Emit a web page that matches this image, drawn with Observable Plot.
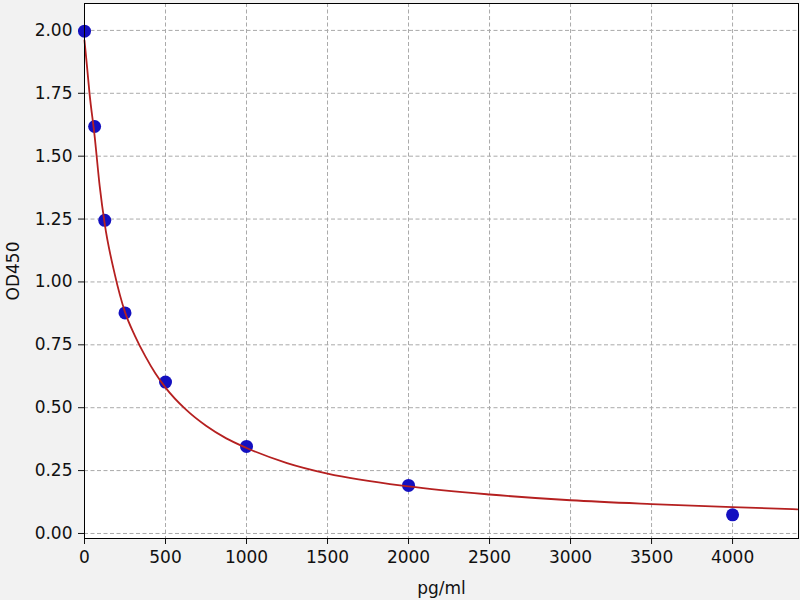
<!DOCTYPE html>
<html>
<head>
<meta charset="utf-8">
<script src="https://cdn.jsdelivr.net/npm/d3@7"></script>
<script src="https://cdn.jsdelivr.net/npm/@observablehq/plot@0.6"></script>
<style>
  body { margin: 0; background: #f2f2f2; }
  #chart { width: 800px; height: 600px; }
</style>
</head>
<body>
<div id="chart"></div>
<script>
// standard points (concentration, optical density)
const conc = [0, 62.5, 125, 250, 500, 1000, 2000, 4000];
const od = [1.997, 1.618, 1.245, 0.877, 0.602, 0.346, 0.191, 0.074];

// fitted curve
const fitX = [0, 15, 31, 62.5, 94, 125, 187, 250, 312, 375, 437, 500, 625, 750, 875, 1000, 1250, 1500, 2000, 2500, 3000, 3500, 4000, 4400];
const fitY = [1.96, 1.86, 1.75, 1.58, 1.38, 1.23, 1.03, 0.88, 0.785, 0.705, 0.637, 0.58, 0.493, 0.428, 0.378, 0.34, 0.28, 0.238, 0.187, 0.155, 0.132, 0.117, 0.105, 0.096];

const xTicks = [0, 500, 1000, 1500, 2000, 2500, 3000, 3500, 4000];
const yTicks = [0, 0.25, 0.5, 0.75, 1, 1.25, 1.5, 1.75, 2];

const points = conc.map((c, i) => ({ x: c, y: od[i] }));
const fit = fitX.map((c, i) => ({ x: c, y: fitY[i] }));

const chart = Plot.plot({
  width: 800,
  height: 600,
  marginLeft: 84,
  marginRight: 2,
  marginTop: 3,
  marginBottom: 62,
  style: { background: "#f2f2f2", fontFamily: "DejaVu Sans", fontSize: "17px", color: "#111" },
  x: { domain: [0, 4407] },
  y: { domain: [-0.02, 2.107] },
  marks: [
    Plot.frame({ fill: "white", stroke: null }),
    Plot.gridX(xTicks, { stroke: "#aaa", strokeOpacity: 1, strokeDasharray: "4,2.5" }),
    Plot.gridY(yTicks, { stroke: "#aaa", strokeOpacity: 1, strokeDasharray: "4,2.5" }),
    Plot.axisX(xTicks, { tickSize: 6, tickPadding: 6, tickFormat: "d", label: "pg/ml", labelArrow: "none", labelAnchor: "center", labelOffset: 55, fontSize: 17 }),
    Plot.axisY(yTicks, { tickSize: 6, tickPadding: 6, tickFormat: ".2f", label: "OD450", labelArrow: "none", labelAnchor: "center", labelOffset: 78, fontSize: 17 }),
    Plot.dot(points, { x: "x", y: "y", r: 6.5, fill: "#1410c0", stroke: "none" }),
    Plot.line(fit, { x: "x", y: "y", stroke: "#b52020", strokeWidth: 1.8, curve: "monotone-x" }),
    Plot.frame({ stroke: "black", strokeWidth: 1 })
  ]
});

document.getElementById("chart").appendChild(chart);
</script>
</body>
</html>
